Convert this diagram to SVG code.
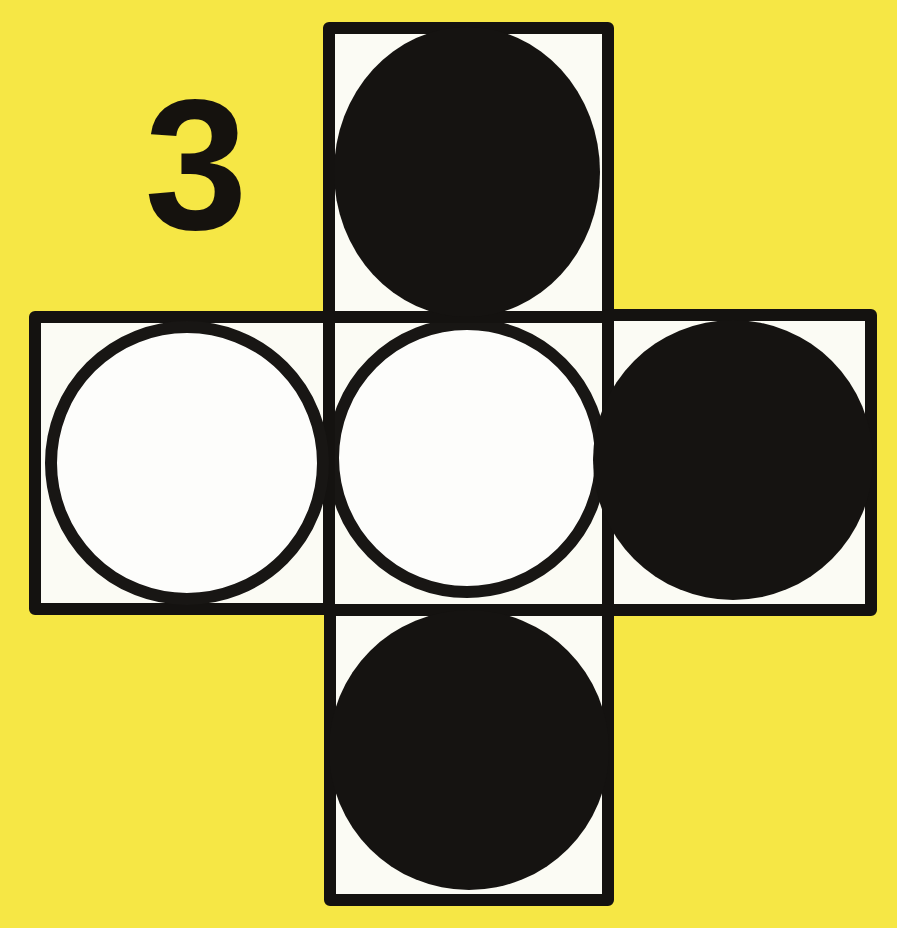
<svg xmlns="http://www.w3.org/2000/svg" width="897" height="928" viewBox="0 0 897 928">
<style>
.sq{fill:#fbfbf4;stroke:#141210;stroke-width:12;stroke-linejoin:round}
.blk{fill:#151311}
.wht{fill:#fdfdfb;stroke:#181614;stroke-width:12}
.num{font-family:"Liberation Sans",Arial,sans-serif;font-weight:bold;font-size:185px;fill:#15120e}
</style>
<rect width="897" height="928" fill="#f6e745"/>
<g id="center"><rect class="sq" x="329" y="317" width="279" height="293"/><circle class="wht" cx="467" cy="458" r="134"/></g>
<g id="top"><rect class="sq" x="329" y="28" width="279" height="289"/><ellipse class="blk" cx="467" cy="172" rx="133" ry="145"/></g>
<g id="left"><rect class="sq" x="35" y="317" width="294" height="292"/><circle class="wht" cx="187" cy="463" r="136"/></g>
<g id="right"><rect class="sq" x="608" y="315" width="263" height="295"/><circle class="blk" cx="733" cy="460" r="140"/></g>
<g id="bottom"><rect class="sq" x="330" y="610" width="278" height="290"/><circle class="blk" cx="469" cy="750" r="140"/></g>
<text class="num" x="196" y="229" text-anchor="middle">3</text>
</svg>
